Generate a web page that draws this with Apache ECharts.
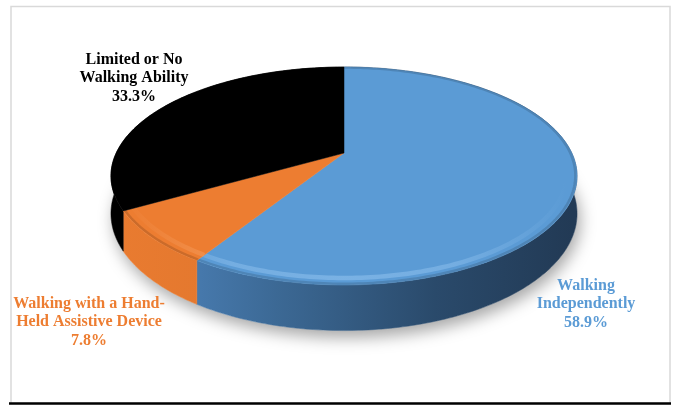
<!DOCTYPE html>
<html>
<head>
<meta charset="utf-8">
<script src="https://cdn.jsdelivr.net/npm/echarts@6/dist/echarts.min.js"></script>
<style>
  html, body { margin: 0; padding: 0; background: #ffffff; }
  #chart { width: 676px; height: 407px; }
</style>
</head>
<body>
<div id="chart"></div>
<script>
// Mobility status shares (%)
const categories = ['Walking\nIndependently', 'Walking with a Hand-\nHeld Assistive Device', 'Limited or No\nWalking Ability'];
const shares = [58.9, 7.8, 33.3];

// Slice styling
const topColors = ['#5b9bd5', '#ed7d31', '#000000'];
const rimRGB = ['147,196,240', '249,172,116', null];
const wallStops = [
  [[0, '#5189c4'], [0.35, '#3c6995'], [0.7, '#2a4a6b'], [1, '#223a55']],
  [[0, '#e97b30'], [1, '#d06d28']],
  [[0, '#000000'], [1, '#000000']]
];
const labelColors = ['#5b9bd5', '#ed7d31', '#000000'];
const labelAnchors = [[586, 304], [89, 322], [134, 78]];

// Perspective disc geometry
const CX = 344, CY = 153, A = 227.8, B = 104.1, K = 0.211, T = 36;
const total = shares.reduce((s, v) => s + v, 0);
const DEG = Math.PI / 180;
const RIM_LO = 105 * DEG, RIM_HI = 255 * DEG;

function proj(theta, r, drop) {
  const u = r * Math.sin(theta);
  const v = -r * Math.cos(theta);
  const d = 1 - K * v;
  return [CX + A * u / d, CY + B * v / d + drop / d];
}
function arc(t0, t1, r, drop) {
  const n = Math.max(6, Math.ceil(Math.abs(t1 - t0) / DEG));
  const pts = [];
  for (let i = 0; i <= n; i++) pts.push(proj(t0 + (t1 - t0) * i / n, r, drop));
  return pts;
}
function sliceAngles(idx) {
  let start = 0;
  for (let i = 0; i < idx; i++) start += shares[i];
  return [start / total * 2 * Math.PI, (start + shares[idx]) / total * 2 * Math.PI];
}

const chart = echarts.init(document.getElementById('chart'), null, { renderer: 'canvas' });

chart.setOption({
  backgroundColor: '#ffffff',
  animation: false,
  graphic: [
    { type: 'rect', shape: { x: 11, y: 6.5, width: 659, height: 397 }, style: { fill: 'none', stroke: '#d9d9d9', lineWidth: 1.5 }, z: 0 },
    { type: 'line', shape: { x1: 9, y1: 403.5, x2: 671, y2: 403.5 }, style: { stroke: '#000000', lineWidth: 2.5 }, z: 0 }
  ],
  series: [
    {
      // soft shadow under the disc
      type: 'custom',
      coordinateSystem: 'none',
      z: 1,
      data: [total],
      renderItem: function () {
        return {
          type: 'polygon',
          shape: { points: arc(0, 2 * Math.PI, 1, T) },
          style: { fill: '#ffffff', shadowBlur: 16, shadowColor: 'rgba(0,0,0,0.35)', shadowOffsetX: 3, shadowOffsetY: 7 }
        };
      }
    },
    {
      // outer walls of each slice
      type: 'custom',
      coordinateSystem: 'none',
      z: 2,
      data: shares,
      renderItem: function (params) {
        const i = params.dataIndex;
        const [t0, t1] = sliceAngles(i);
        const top = arc(t0, t1, 1, 0);
        const bottom = arc(t0, t1, 1, T).reverse();
        const grad = new echarts.graphic.LinearGradient(CX - A, 0, CX + A, 0,
          wallStops[i].map(s => ({ offset: s[0], color: s[1] })), true);
        return {
          type: 'polygon',
          shape: { points: top.concat(bottom) },
          style: { fill: grad, stroke: grad, lineWidth: 0.5 }
        };
      }
    },
    {
      // top faces, rim bevel and labels
      type: 'custom',
      coordinateSystem: 'none',
      z: 3,
      data: shares,
      renderItem: function (params, api) {
        const i = params.dataIndex;
        const val = api.value(0);
        const [t0, t1] = sliceAngles(i);
        const face = [[CX, CY]].concat(arc(t0, t1, 1, 0));
        const children = [{
          type: 'polygon',
          shape: { points: face },
          style: { fill: topColors[i], stroke: topColors[i], lineWidth: 0.5 }
        }];
        if (rimRGB[i]) {
          // darker outer edge of the bevel
          children.push({
            type: 'polyline',
            shape: { points: arc(t0, t1, 0.993, 0) },
            style: { stroke: 'rgba(0,0,0,0.14)', lineWidth: 2.5, fill: null }
          });
          // light bevel highlight along the front, fading toward the sides
          const f0 = Math.max(t0, RIM_LO), f1 = Math.min(t1, RIM_HI);
          if (f1 > f0) {
            const xr = proj(RIM_LO, 0.958, 0)[0], xl = proj(RIM_HI, 0.958, 0)[0];
            const c = rimRGB[i];
            const grad = new echarts.graphic.LinearGradient(xl, 0, xr, 0, [
              { offset: 0, color: 'rgba(' + c + ',0)' },
              { offset: 0.25, color: 'rgba(' + c + ',0.45)' },
              { offset: 0.5, color: 'rgba(' + c + ',0.55)' },
              { offset: 0.75, color: 'rgba(' + c + ',0.45)' },
              { offset: 1, color: 'rgba(' + c + ',0)' }
            ], true);
            children.push({
              type: 'polyline',
              shape: { points: arc(f0, f1, 0.958, 0) },
              style: { stroke: grad, lineWidth: 4.5, fill: null, lineCap: 'butt' }
            });
          }
        }
        children.push({
          type: 'text',
          style: {
            x: labelAnchors[i][0],
            y: labelAnchors[i][1],
            text: categories[i] + '\n' + val.toFixed(1) + '%',
            fill: labelColors[i],
            font: 'bold 16px "Liberation Serif", "Times New Roman", serif',
            align: 'center',
            verticalAlign: 'middle',
            lineHeight: 18.5
          },
          z2: 10
        });
        return { type: 'group', children: children };
      }
    }
  ]
});
</script>
</body>
</html>
